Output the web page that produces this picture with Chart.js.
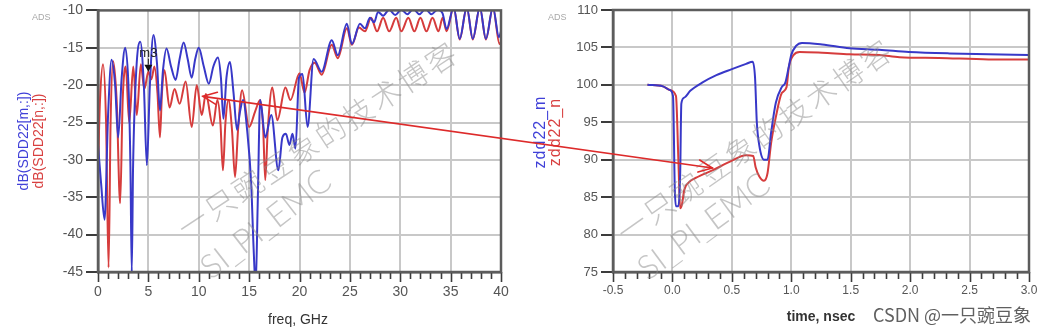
<!DOCTYPE html>
<html>
<head>
<meta charset="utf-8">
<script src="https://cdn.jsdelivr.net/npm/chart.js@4.4.1/dist/chart.umd.min.js"></script>
<style>
  html, body { margin: 0; padding: 0; background: #fff; }
  #wrap { position: relative; width: 1054px; height: 332px; overflow: hidden; font-family: "Liberation Sans", Arial, sans-serif; }
  canvas { position: absolute; top: 0; }
  #cL { left: 0; }
  #cR { left: 527px; }
  #arrow { left: 0; pointer-events: none; }
  .lbl { position: absolute; white-space: nowrap; line-height: 1; }
  .rot { transform: translate(-50%, -50%) rotate(-90deg); }
  .ctr { transform: translate(-50%, -50%); }
  .abs { font-size: 9px; color: #a8a8a8; }
  .wm { position: absolute; white-space: nowrap; line-height: 1; color: rgba(140,140,140,0.5); }
  .wmcn { font-family: "Noto Sans CJK SC", sans-serif; font-weight: 300; font-size: 30px; letter-spacing: 3px; }
  .wmen { font-family: "Lato", "DejaVu Sans", sans-serif; font-weight: 300; font-size: 33px; }
</style>
</head>
<body>
<div id="wrap">
  <canvas id="cL" width="527" height="332"></canvas>
  <canvas id="cR" width="527" height="332"></canvas>

  <div class="lbl abs" style="left:32px;top:13px;">ADS</div>
  <div class="lbl abs" style="left:548px;top:13px;">ADS</div>

  <div class="lbl rot" style="left:23px;top:141px;font-size:14px;color:#4040d8;">dB(SDD22[m,:])</div>
  <div class="lbl rot" style="left:38px;top:141px;font-size:14px;color:#d84040;">dB(SDD22[n,:])</div>
  <div class="lbl rot" style="left:540px;top:132px;font-size:16px;letter-spacing:1px;color:#4040d8;">zdd22_m</div>
  <div class="lbl rot" style="left:555px;top:132px;font-size:16px;letter-spacing:1px;color:#d84040;">zdd22_n</div>

  <div class="lbl ctr" style="left:298px;top:319px;font-size:14px;color:#333;">freq, GHz</div>
  <div class="lbl ctr" style="left:821px;top:316px;font-size:14px;font-weight:bold;color:#333;">time, nsec</div>
  <div class="lbl ctr" style="left:952px;top:314px;font-size:18px;color:#606060;font-family:'Noto Sans CJK SC',sans-serif;">CSDN @一只豌豆象</div>

  <div class="wm wmcn ctr" style="left:317px;top:138px;transform:translate(-50%,-50%) rotate(-33.5deg);">一只豌豆象的技术博客</div>
  <div class="wm wmen ctr" style="left:265px;top:223px;transform:translate(-50%,-50%) rotate(-37.7deg);">SI_PI_EMC</div>
  <div class="wm wmcn ctr" style="left:754px;top:139px;transform:translate(-50%,-50%) rotate(-35deg);">一只豌豆象的技术博客</div>
  <div class="wm wmen ctr" style="left:703px;top:225px;transform:translate(-50%,-50%) rotate(-36.5deg);">SI_PI_EMC</div>

  <canvas id="arrow" width="1054" height="332"></canvas>
</div>

<script>
// dB(SDD22[m,:]) versus frequency (GHz)
const freqM = [0, 0.3, 0.65, 1.0, 1.35, 1.7, 2.0, 2.35, 2.7, 3.05, 3.22, 3.35, 3.48, 3.8, 4.2, 4.55, 4.85, 5.15, 5.5, 5.85,
  6.15, 6.45, 6.8, 7.25, 7.7, 8.1, 8.5, 8.9, 9.3, 9.65, 10.0, 10.5, 11.0, 11.45, 11.9, 12.2, 12.45, 12.75, 13.1, 13.45,
  13.8, 14.1, 14.4, 14.8, 15.2, 15.45, 15.65, 15.85, 16.1, 16.6, 17.2, 17.9, 18.3, 18.65, 19.0, 19.3, 19.6, 19.95, 20.3, 20.8,
  21.4, 22.2, 23.2, 23.8, 24.7, 25.2, 26.0, 26.5, 27.0, 27.4, 27.8, 28.3, 28.9, 29.5, 30.1, 30.7, 31.3, 31.9, 32.5, 33.1,
  33.7, 34.2, 34.6, 35.3, 35.9, 36.6, 37.2, 37.9, 38.5, 39.2, 39.8, 40];
const dbM = [-28, -33, -38, -24, -16.6, -20, -27, -19, -15, -21, -31, -45, -31, -18, -14.2, -20, -30.7, -20, -13.3, -17,
  -23.4, -18, -15.1, -17.5, -19.3, -16.5, -14.3, -16.5, -19, -16.5, -15, -17.5, -19.8, -17.5, -16.3, -19, -24.5, -19, -16.9, -21,
  -26, -23.5, -22, -26, -33, -42, -47, -36, -22, -27, -24, -31.4, -27, -26.5, -28, -26.5, -28.5, -19, -18.5, -25.6,
  -16.5, -18.2, -14, -16, -11.8, -14.5, -11.8, -12.4, -11, -11.6, -10.2, -10.7, -9.9, -10.6, -9.9, -10.5, -9.8, -10.5, -9.8, -10.5,
  -9.9, -10.4, -12.5, -9.6, -13.8, -9.6, -13.8, -9.6, -13.8, -9.6, -13.6, -12.8];

// dB(SDD22[n,:]) versus frequency (GHz)
const freqN = [0, 0.2, 0.5, 0.8, 1.05, 1.25, 1.5, 1.85, 2.2, 2.45, 2.75, 3.1, 3.5, 3.85, 4.25, 4.6, 5.0, 5.3, 5.6, 5.9,
  6.15, 6.35, 6.6, 7.1, 7.6, 8.1, 8.7, 9.3, 9.8, 10.3, 10.7, 11.4, 11.85, 12.15, 12.4, 12.65, 12.95, 13.3, 13.6, 13.9,
  14.3, 15.0, 15.6, 16.1, 16.4, 16.6, 16.85, 17.3, 17.8, 18.6, 19.1, 20.0, 20.5, 21.0, 21.5, 22.2, 23.2, 23.8, 24.7, 25.2,
  25.9, 26.5, 27.1, 27.7, 28.3, 28.9, 29.6, 30.1, 30.8, 31.4, 32.0, 32.6, 33.2, 33.8, 34.2, 34.6, 35.3, 35.9, 36.6, 37.2,
  37.9, 38.5, 39.2, 39.85, 40];
const dbN = [-31, -22, -17.2, -25, -44.4, -25, -16.8, -22, -35.8, -22, -17.5, -25, -17.5, -24, -17.2, -20.5, -18.2, -19.2, -17.5, -21,
  -27, -21, -18, -23, -20.5, -22.5, -19.5, -25.6, -20, -24, -21.2, -25.4, -22, -25, -31.4, -25, -22, -26, -32.3, -26,
  -20.7, -25.6, -23.5, -22, -26, -32.7, -26, -20.3, -24.7, -20.3, -22, -18.4, -21, -18, -17, -18.6, -14.6, -16.4, -12.4, -14.6,
  -12.3, -12.8, -11, -12.8, -11, -12.8, -11, -12.8, -11, -12.8, -11, -12.8, -11, -12.8, -11, -12.8, -9.6, -13.9, -9.6, -13.9,
  -9.6, -13.9, -9.6, -14.5, -14.2];

// zdd22_m versus time (ns)
const timeM = [-0.21, -0.08, -0.02, 0.005, 0.02, 0.03, 0.05, 0.065, 0.075, 0.1, 0.15, 0.25, 0.37, 0.5, 0.62, 0.675, 0.695, 0.71, 0.73, 0.77,
  0.8, 0.83, 0.87, 0.92, 0.95, 0.98, 1.0, 1.04, 1.09, 1.26, 1.49, 1.74, 1.99, 2.33, 2.66, 3.0];
const zM = [100, 99.8, 99.3, 98.5, 86, 83.8, 83.8, 88, 97.5, 98.3, 99.2, 100.3, 101.3, 102.1, 102.8, 103.1, 101, 95, 92, 90,
  90, 93.6, 97.6, 99.7, 100.3, 102.5, 104, 105.2, 105.6, 105.4, 104.9, 104.7, 104.4, 104.2, 104.1, 104.0];

// zdd22_n versus time (ns)
const timeN = [-0.21, -0.08, -0.02, 0.03, 0.05, 0.065, 0.08, 0.1, 0.14, 0.2, 0.34, 0.48, 0.62, 0.68, 0.7, 0.73, 0.77, 0.8, 0.83, 0.87,
  0.92, 0.96, 0.98, 1.02, 1.07, 1.26, 1.49, 1.74, 1.91, 2.24, 2.66, 3.0];
const zN = [100, 99.8, 99.3, 98.5, 90, 83.5, 84, 86, 87, 87.6, 88.6, 89.7, 90.6, 90.5, 89, 87.8, 87.2, 88.2, 92.2, 95.7,
  98.9, 99.7, 102.4, 104, 104.4, 104.3, 104.1, 104.0, 103.7, 103.6, 103.4, 103.4];

// marker m3 and the annotation arrow ends, in data units
const markerM3 = { label: 'm3', freq: 5.0, db: -18.2 };
const arrowFrom = { freq: 10.42, db: -21.5 };
const arrowTo = { time: 0.336, ohm: 88.9 };

const BLUE = '#3838c8';
const RED = '#d63c3c';
const GRID = '#c8c8c8';
const AXIS = '#5c5c5c';
const TICK = '#3c3c3c';
const NONE = 'rgba(0,0,0,0)';

Chart.defaults.font.family = '"Liberation Sans", Arial, sans-serif';
Chart.defaults.color = '#555';

const pairs = (xs, ys) => xs.map((x, i) => ({ x: x, y: ys[i] }));

// plot frame plus outward tick marks (long on labelled ticks, short on minor ones)
const framePlugin = {
  id: 'frame',
  afterDraw(chart, args, opts) {
    const a = chart.chartArea, c = chart.ctx;
    const xs = chart.scales.x, ys = chart.scales.y;
    c.save();
    c.strokeStyle = TICK;
    c.lineWidth = 1.6;
    xs.ticks.forEach(t => {
      const px = Math.round(xs.getPixelForValue(t.value)) + 0.5;
      const major = opts.isMajor(t.value);
      c.beginPath();
      c.moveTo(px, a.bottom);
      c.lineTo(px, a.bottom + (major ? 10 : 7));
      c.stroke();
    });
    c.lineWidth = 2;
    ys.ticks.forEach(t => {
      const py = Math.round(ys.getPixelForValue(t.value));
      c.beginPath();
      c.moveTo(a.left - 12, py);
      c.lineTo(a.left, py);
      c.stroke();
    });
    c.strokeStyle = AXIS;
    c.lineWidth = 2.5;
    c.strokeRect(a.left, a.top, a.right - a.left, a.bottom - a.top);
    c.restore();
  }
};

const markerPlugin = {
  id: 'marker',
  afterDatasetsDraw(chart) {
    const c = chart.ctx;
    const px = chart.scales.x.getPixelForValue(markerM3.freq);
    const py = chart.scales.y.getPixelForValue(markerM3.db);
    c.save();
    c.fillStyle = '#111';
    c.beginPath();
    c.moveTo(px, py);
    c.lineTo(px - 4, py - 7);
    c.lineTo(px + 4, py - 7);
    c.closePath();
    c.fill();
    c.strokeStyle = '#222';
    c.lineWidth = 1;
    c.beginPath();
    c.moveTo(px, py - 7);
    c.lineTo(px, py - 13);
    c.stroke();
    c.font = '13px "Liberation Sans", Arial, sans-serif';
    c.fillStyle = '#222';
    c.textAlign = 'center';
    c.textBaseline = 'bottom';
    c.fillText(markerM3.label, px, py - 12);
    c.restore();
  }
};

function lineSet(label, data, color) {
  return {
    label: label,
    data: data,
    borderColor: color,
    backgroundColor: color,
    borderWidth: 2,
    pointRadius: 0,
    cubicInterpolationMode: 'monotone',
    fill: false,
    clip: 0
  };
}

const isFreqMajor = v => Math.round(v) % 5 === 0;
const isTimeMajor = v => Math.abs(Math.round(v * 10) % 5) === 0;

const chartL = new Chart(document.getElementById('cL'), {
  type: 'line',
  data: {
    datasets: [
      lineSet('dB(SDD22[m,:])', pairs(freqM, dbM), BLUE),
      lineSet('dB(SDD22[n,:])', pairs(freqN, dbN), RED)
    ]
  },
  options: {
    responsive: false,
    animation: false,
    events: [],
    layout: { padding: { left: 0, right: 26, top: 10, bottom: 0 } },
    plugins: { legend: { display: false }, tooltip: { enabled: false }, frame: { isMajor: isFreqMajor } },
    scales: {
      x: {
        type: 'linear', min: 0, max: 40,
        ticks: {
          stepSize: 1, autoSkip: false, maxRotation: 0, padding: 3,
          font: { size: 14 }, color: '#555',
          callback: v => (isFreqMajor(v) ? String(v) : '')
        },
        grid: {
          color: c => (c.tick && isFreqMajor(c.tick.value) && c.tick.value > 0 && c.tick.value < 40) ? GRID : NONE,
          lineWidth: 2, tickLength: 9, tickColor: NONE
        },
        border: { color: AXIS, width: 2.5 },
        afterFit(s) { s.height = 60; }
      },
      y: {
        type: 'linear', min: -45, max: -10,
        ticks: { stepSize: 5, padding: 2, font: { size: 14 }, color: '#555' },
        grid: {
          color: c => (c.tick && c.tick.value > -45 && c.tick.value < -10) ? GRID : NONE,
          lineWidth: 2, tickLength: 13, tickColor: NONE
        },
        border: { color: AXIS, width: 2.5 },
        afterFit(s) { s.width = 98; }
      }
    }
  },
  plugins: [framePlugin, markerPlugin]
});

const chartR = new Chart(document.getElementById('cR'), {
  type: 'line',
  data: {
    datasets: [
      lineSet('zdd22_m', pairs(timeM, zM), BLUE),
      lineSet('zdd22_n', pairs(timeN, zN), RED)
    ]
  },
  options: {
    responsive: false,
    animation: false,
    events: [],
    layout: { padding: { left: 0, right: 25, top: 10, bottom: 0 } },
    plugins: { legend: { display: false }, tooltip: { enabled: false }, frame: { isMajor: isTimeMajor } },
    scales: {
      x: {
        type: 'linear', min: -0.5, max: 3.0,
        ticks: {
          stepSize: 0.1, autoSkip: false, maxRotation: 0, padding: 2,
          font: { size: 12 }, color: '#555',
          callback: v => (isTimeMajor(v) ? (Math.round(v * 10) / 10).toFixed(1) : '')
        },
        grid: {
          color: c => {
            if (!c.tick) return NONE;
            const k = Math.round(c.tick.value * 10);
            return (isTimeMajor(c.tick.value) && k > -5 && k < 30) ? GRID : NONE;
          },
          lineWidth: 2, tickLength: 9, tickColor: NONE
        },
        border: { color: AXIS, width: 2.5 },
        afterFit(s) { s.height = 60; }
      },
      y: {
        type: 'linear', min: 75, max: 110,
        ticks: { stepSize: 5, padding: 2, font: { size: 13 }, color: '#555' },
        grid: {
          color: c => (c.tick && c.tick.value > 75 && c.tick.value < 110) ? GRID : NONE,
          lineWidth: 2, tickLength: 13, tickColor: NONE
        },
        border: { color: AXIS, width: 2.5 },
        afterFit(s) { s.width = 86; }
      }
    }
  },
  plugins: [framePlugin]
});

// double-headed annotation arrow linking the two plots
(function drawArrow() {
  const cv = document.getElementById('arrow');
  const c = cv.getContext('2d');
  const offR = 527;
  const x1 = chartL.scales.x.getPixelForValue(arrowFrom.freq);
  const y1 = chartL.scales.y.getPixelForValue(arrowFrom.db);
  const x2 = offR + chartR.scales.x.getPixelForValue(arrowTo.time);
  const y2 = chartR.scales.y.getPixelForValue(arrowTo.ohm);
  c.strokeStyle = '#dd2a2a';
  c.lineWidth = 1.6;
  c.lineCap = 'round';
  c.beginPath();
  c.moveTo(x1, y1);
  c.lineTo(x2, y2);
  c.stroke();
  function head(tx, ty, fx, fy) {
    const ang = Math.atan2(fy - ty, fx - tx);
    const len = 15, spread = 0.42;
    c.beginPath();
    c.moveTo(tx + len * Math.cos(ang - spread), ty + len * Math.sin(ang - spread));
    c.lineTo(tx, ty);
    c.lineTo(tx + len * Math.cos(ang + spread), ty + len * Math.sin(ang + spread));
    c.stroke();
  }
  head(x1, y1, x2, y2);
  head(x2, y2, x1, y1);
})();
</script>
</body>
</html>
